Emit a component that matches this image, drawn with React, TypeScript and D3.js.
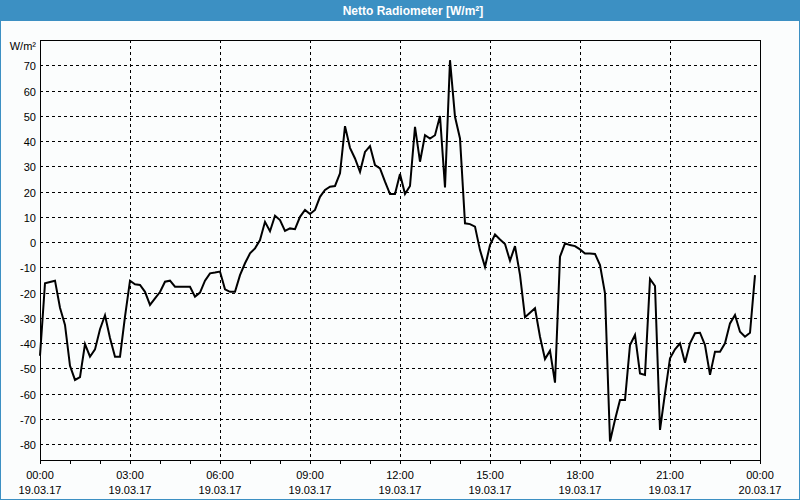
import React from "react";
import * as d3 from "d3";

const TITLE = "Netto Radiometer [W/m²]";
const UNIT = "W/m²";
const START = new Date(2017, 2, 19, 0, 0);
const END = new Date(2017, 2, 20, 0, 0);
const STEP_MIN = 10;
const yTicks = [70, 60, 50, 40, 30, 20, 10, 0, -10, -20, -30, -40, -50, -60, -70, -80];
const values = [
  -45, -16.3, -15.8, -15.3, -26, -32.8, -49, -54.6, -53.5, -40.4,
  -45.4, -42.5, -34.5, -29, -38, -45.4, -45.4, -29.5, -15.3, -16.7,
  -17, -19.7, -24.9, -22.3, -19.8, -15.7, -15.3, -17.7, -17.7, -17.7,
  -17.7, -21.6, -20, -15.3, -12.4, -12.1, -11.7, -18.7, -19.7, -19.7,
  -13.1, -8.4, -4.5, -2.5, 0.8, 8, 4.3, 10.4, 8.7, 4.4,
  5.4, 5.1, 10, 12.7, 11.1, 12.7, 17.9, 20.6, 21.9, 22.2,
  27.2, 45.9, 37.3, 33.1, 27.8, 35.7, 38, 30.5, 29.2, 23.9,
  19, 19, 26.9, 19, 22.2, 45.6, 31.8, 42.3, 41, 42.3,
  49.9, 21.6, 72, 49.6, 41, 7.4, 7.1, 6.1, -3.2, -9.8,
  -1.2, 3, 1, -0.8, -7.4, -1.6, -13, -29.8, -28, -26.2,
  -37.5, -46.3, -43, -55.7, -5.8, -0.5, -1.2, -1.6, -2.9, -4.5,
  -4.5, -4.7, -9.1, -20.3, -79, -70.4, -62.5, -62.5, -40.8, -36.8,
  -52, -52.6, -14.6, -17.4, -74.4, -59.9, -46, -42.5, -40.1, -47.8,
  -40.1, -36.1, -35.9, -40.8, -52.6, -43.4, -43.4, -40.1, -32.2, -28.9,
  -35.5, -37.5, -35.9, -13.1,
];

const W = 800, H = 500;
const L = 40, R = 760, T = 40, B = 460;
const FONT = "'Liberation Sans', Arial, sans-serif";

export default function App() {
  const x = d3.scaleTime().domain([START, END]).range([L, R]);
  const y = d3.scaleLinear().domain([-86.3, 80]).range([B, T]);
  const data = values.map((v, i) => ({ t: d3.timeMinute.offset(START, i * STEP_MIN), v }));
  const line = d3.line<{ t: Date; v: number }>().x(d => x(d.t)).y(d => y(d.v));
  const hourTicks = x.ticks(d3.timeHour.every(1)!);
  const majorTicks = x.ticks(d3.timeHour.every(3)!);
  const fmtT = d3.timeFormat("%H:%M");
  const fmtD = d3.timeFormat("%d.%m.%y");
  const px = (v: number) => Math.round(v) + 0.5;

  return (
    <svg width={W} height={H} style={{ position: "absolute", left: 0, top: 0, display: "block" }}
      fontFamily={FONT}>
      <rect x={0} y={0} width={W} height={H} fill="#fbfdfd" />
      <rect x={0} y={0} width={W} height={21} fill="#3c90c3" />
      <rect x={0.5} y={0.5} width={W - 1} height={H - 1} fill="none" stroke="#3c90c3" />
      <text x={413} y={15} textAnchor="middle" fill="#ffffff" fontWeight="bold" fontSize={12}>{TITLE}</text>

      {yTicks.map(v => (
        <g key={"y" + v}>
          <line x1={L} x2={R} y1={px(y(v))} y2={px(y(v))} stroke="#000" strokeDasharray="3,3" />
          <text x={36} y={Math.round(y(v)) + 5} textAnchor="end" fontSize={11} fill="#000">{v}</text>
        </g>
      ))}
      <text x={36} y={50} textAnchor="end" fontSize={11} fill="#000">{UNIT}</text>

      {majorTicks.filter(t => +t !== +START && +t !== +END).map(t => (
        <line key={"g" + +t} x1={px(x(t))} x2={px(x(t))} y1={T} y2={B} stroke="#000" strokeDasharray="3,3" />
      ))}
      {hourTicks.map(t => (
        <line key={"t" + +t} x1={px(x(t))} x2={px(x(t))} y1={B} y2={B + 4} stroke="#000" />
      ))}
      {majorTicks.map(t => (
        <g key={"l" + +t}>
          <text x={x(t)} y={479} textAnchor="middle" fontSize={11} fill="#000">{fmtT(t)}</text>
          <text x={x(t)} y={494} textAnchor="middle" fontSize={11} fill="#000">{fmtD(t)}</text>
        </g>
      ))}

      <rect x={L + 0.5} y={T + 0.5} width={R - L} height={B - T} fill="none" stroke="#000" />
      <path d={line(data) || ""} fill="none" stroke="#000" strokeWidth={2} strokeLinejoin="miter" />
    </svg>
  );
}
